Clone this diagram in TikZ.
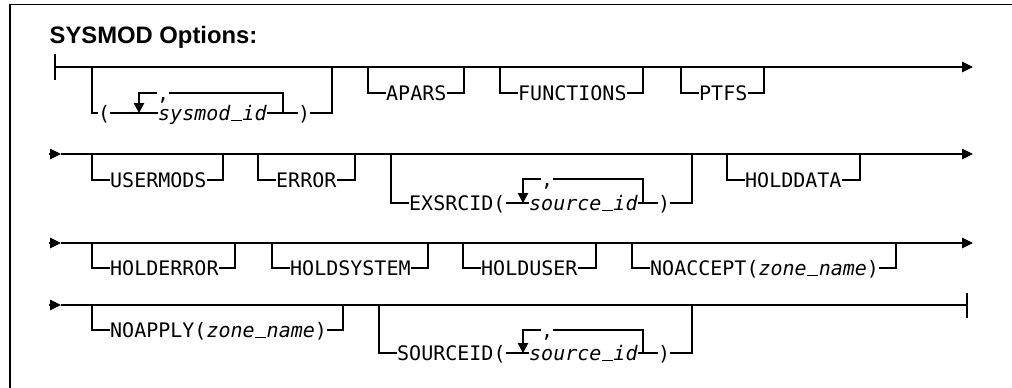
\documentclass[tikz,border=0pt]{standalone}
\usepackage{fontspec}
\newfontfamily\rrmono{DejaVu Sans Mono}
\newfontfamily\ttlfont{Liberation Sans}
\usetikzlibrary{arrows.meta}
\newcommand\usc{\makebox[12.04pt][c]{\rule[-0.6pt]{11pt}{1.2pt}}}
\begin{document}
\begin{tikzpicture}[x=1pt,y=-1pt,
  rr/.style={line width=1.1pt},
  kw/.style={inner xsep=0pt, inner ysep=0pt, anchor=west, text height=17pt, text depth=2.4pt, font=\rrmono\fontsize{20}{24}\selectfont},
  var/.style={kw, font=\rrmono\itshape\fontsize{20}{24}\selectfont},
  endarr/.style={rr,-{Triangle[length=11pt,width=10.5pt]}},
  downarr/.style={rr,-{Triangle[length=10pt,width=10.5pt]}},
]
\useasboundingbox (0,0) rectangle (1012,388);
% frame
\coordinate (fbl) at (10,390);
\coordinate (ftl) at (10,4.3);
\coordinate (ftr) at (1014,4.3);
\draw[rr] (fbl) -- (ftl) -- (ftr);
\node[anchor=base west, inner sep=0pt, font=\ttlfont\bfseries\fontsize{23.8}{28}\selectfont] (title) at (49.5,43.5) {SYSMOD Options:};

% ---------------- Row 1 ----------------
\coordinate (r1s) at (55,67);
\coordinate (r1e) at (973,67);
\coordinate (r1ta) at (55,54);
\coordinate (r1tb) at (55,80);
\draw[rr] (r1ta) -- (r1tb);
\draw[endarr] (r1s) -- (r1e);

% ( sysmod_id )
\node[kw] (p1o) at (98,113) {(};
\node[var] (sysid) at (158,113) {sysmod\usc id};
\node[kw] (p1c) at (298,113) {)};
\node[kw] (cm1) at (157,93) {,};
\coordinate (b1l) at (92,67);
\coordinate (b1r) at (332,67);
\coordinate (l1a) at (139,113);
\coordinate (l1b) at (283,113);
\draw[rr] (b1l) |- (p1o.west);
\draw[rr] (p1o.east) -- (sysid.west);
\draw[rr] (sysid.east) -- (p1c.west);
\draw[rr] (p1c.east) -| (b1r);
\draw[downarr] (cm1.west) -| (l1a);
\draw[rr] (cm1.east) -| (l1b);

% APARS
\node[kw] (apars) at (386,93) {APARS};
\coordinate (b2l) at (368,67);
\coordinate (b2r) at (464,67);
\draw[rr] (b2l) |- (apars.west);
\draw[rr] (apars.east) -| (b2r);
% FUNCTIONS
\node[kw] (func) at (518,93) {FUNCTIONS};
\coordinate (b3l) at (500,67);
\coordinate (b3r) at (643,67);
\draw[rr] (b3l) |- (func.west);
\draw[rr] (func.east) -| (b3r);
% PTFS
\node[kw] (ptfs) at (699,93) {PTFS};
\coordinate (b4l) at (681,67);
\coordinate (b4r) at (764,67);
\draw[rr] (b4l) |- (ptfs.west);
\draw[rr] (ptfs.east) -| (b4r);

% ---------------- Row 2 ----------------
\coordinate (r2a) at (49,154);
\coordinate (r2s) at (61,154);
\coordinate (r2e) at (973,154);
\draw[endarr] (r2a) -- (r2s);
\draw[endarr] (r2s) -- (r2e);
% USERMODS
\node[kw] (usermods) at (110,180) {USERMODS};
\coordinate (c1l) at (92,154);
\coordinate (c1r) at (223,154);
\draw[rr] (c1l) |- (usermods.west);
\draw[rr] (usermods.east) -| (c1r);
% ERROR
\node[kw] (error) at (276,180) {ERROR};
\coordinate (c2l) at (258,154);
\coordinate (c2r) at (355,154);
\draw[rr] (c2l) |- (error.west);
\draw[rr] (error.east) -| (c2r);
% EXSRCID( source_id )
\node[kw] (exo) at (409,203) {EXSRCID(};
\node[var] (exid) at (529,203) {source\usc id};
\node[kw] (exc) at (658,203) {)};
\node[kw] (cm2) at (541,179) {,};
\coordinate (c3l) at (391,154);
\coordinate (c3r) at (692,154);
\coordinate (l2a) at (523,203);
\coordinate (l2b) at (643,203);
\draw[rr] (c3l) |- (exo.west);
\draw[rr] (exo.east) -- (exid.west);
\draw[rr] (exid.east) -- (exc.west);
\draw[rr] (exc.east) -| (c3r);
\draw[downarr] (cm2.west) -| (l2a);
\draw[rr] (cm2.east) -| (l2b);
% HOLDDATA
\node[kw] (holddata) at (745,180) {HOLDDATA};
\coordinate (c4l) at (727,154);
\coordinate (c4r) at (860,154);
\draw[rr] (c4l) |- (holddata.west);
\draw[rr] (holddata.east) -| (c4r);

% ---------------- Row 3 ----------------
\coordinate (r3a) at (49,243);
\coordinate (r3s) at (61,243);
\coordinate (r3e) at (973,243);
\draw[endarr] (r3a) -- (r3s);
\draw[endarr] (r3s) -- (r3e);
% HOLDERROR
\node[kw] (holderror) at (110,268) {HOLDERROR};
\coordinate (d1l) at (92,243);
\coordinate (d1r) at (235,243);
\draw[rr] (d1l) |- (holderror.west);
\draw[rr] (holderror.east) -| (d1r);
% HOLDSYSTEM
\node[kw] (holdsystem) at (290,268) {HOLDSYSTEM};
\coordinate (d2l) at (272,243);
\coordinate (d2r) at (428,243);
\draw[rr] (d2l) |- (holdsystem.west);
\draw[rr] (holdsystem.east) -| (d2r);
% HOLDUSER
\node[kw] (holduser) at (481,268) {HOLDUSER};
\coordinate (d3l) at (463,243);
\coordinate (d3r) at (596,243);
\draw[rr] (d3l) |- (holduser.west);
\draw[rr] (holduser.east) -| (d3r);
% NOACCEPT(zone_name)
\node[kw] (noaccept) at (650,268) {NOACCEPT(\textit{zone\usc name})};
\coordinate (d4l) at (632,243);
\coordinate (d4r) at (896,243);
\draw[rr] (d4l) |- (noaccept.west);
\draw[rr] (noaccept.east) -| (d4r);

% ---------------- Row 4 ----------------
\coordinate (r4a) at (49,305);
\coordinate (r4s) at (61,305);
\coordinate (r4e) at (967,305);
\coordinate (r4ta) at (967,293);
\coordinate (r4tb) at (967,318);
\draw[endarr] (r4a) -- (r4s);
\draw[rr] (r4s) -- (r4e);
\draw[rr] (r4ta) -- (r4tb);
% NOAPPLY(zone_name)
\node[kw] (noapply) at (110,330) {NOAPPLY(\textit{zone\usc name})};
\coordinate (e1l) at (92,305);
\coordinate (e1r) at (343,305);
\draw[rr] (e1l) |- (noapply.west);
\draw[rr] (noapply.east) -| (e1r);
% SOURCEID( source_id )
\node[kw] (sro) at (397,353) {SOURCEID(};
\node[var] (srid) at (529,353) {source\usc id};
\node[kw] (src) at (658,353) {)};
\node[kw] (cm3) at (541,330) {,};
\coordinate (e2l) at (379,305);
\coordinate (e2r) at (692,305);
\coordinate (l3a) at (523,353);
\coordinate (l3b) at (643,353);
\draw[rr] (e2l) |- (sro.west);
\draw[rr] (sro.east) -- (srid.west);
\draw[rr] (srid.east) -- (src.west);
\draw[rr] (src.east) -| (e2r);
\draw[downarr] (cm3.west) -| (l3a);
\draw[rr] (cm3.east) -| (l3b);
\end{tikzpicture}
\end{document}
